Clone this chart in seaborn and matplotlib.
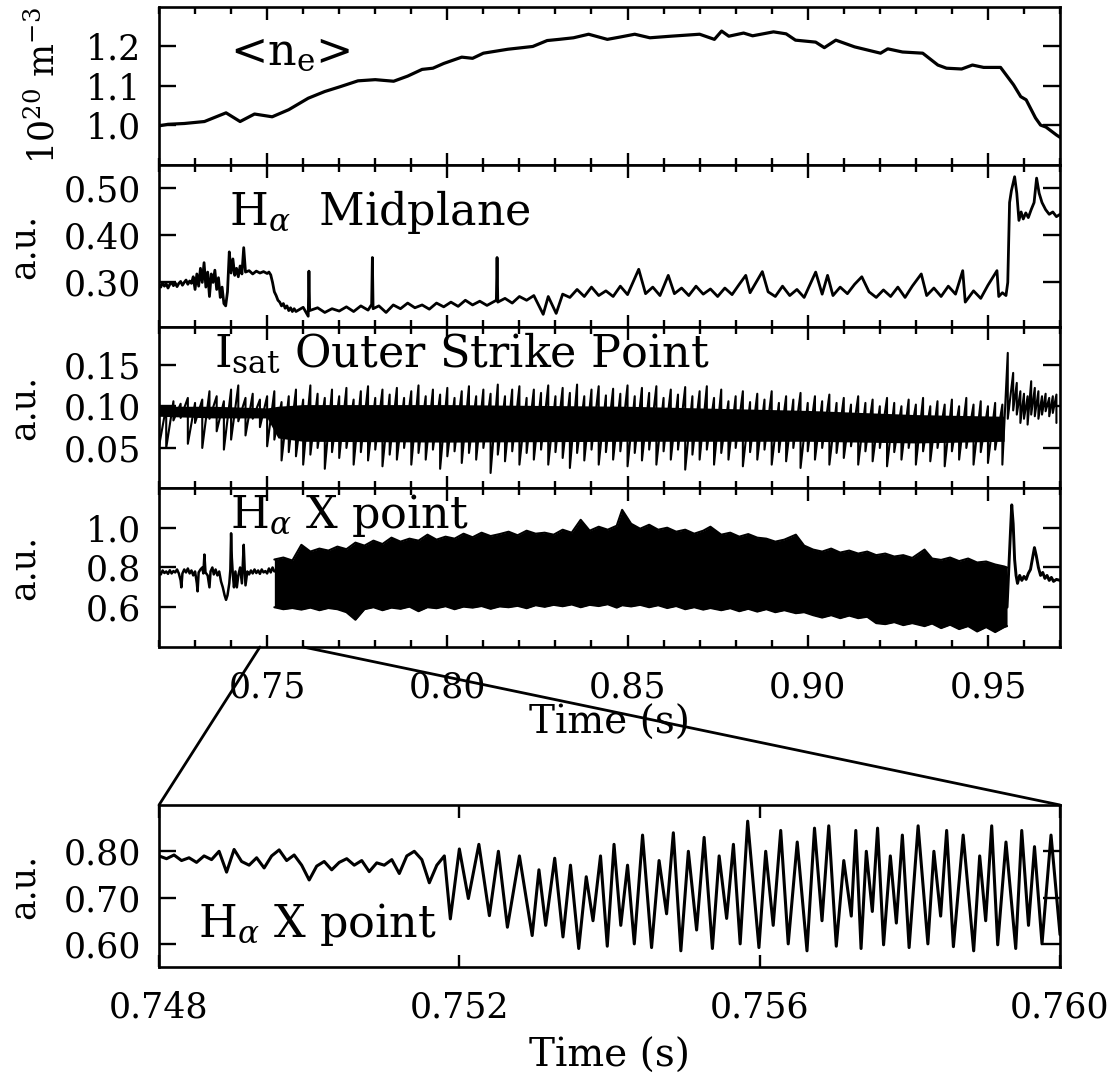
# library
import numpy as np
import seaborn as sns
import matplotlib.pyplot as plt
from matplotlib.patches import ConnectionPatch
from matplotlib.ticker import FixedLocator, MultipleLocator, FormatStrFormatter

# ---------------- data ----------------
# line averaged density <n_e> (time, 1e20 m^-3)
ne_pts = [(0.7200, 0.999), (0.7225, 1.003), (0.7270, 1.005), (0.7326, 1.010), (0.7386, 1.032),
          (0.7425, 1.010), (0.7465, 1.029), (0.7514, 1.022), (0.7560, 1.040), (0.7614, 1.069),
          (0.7660, 1.086), (0.7702, 1.098), (0.7752, 1.113), (0.7800, 1.116), (0.7851, 1.112),
          (0.7890, 1.125), (0.7930, 1.142), (0.7960, 1.145), (0.7990, 1.157), (0.8040, 1.173),
          (0.8070, 1.170), (0.8100, 1.183), (0.8168, 1.193), (0.8237, 1.200), (0.8277, 1.215),
          (0.8310, 1.218), (0.8350, 1.222), (0.8392, 1.231), (0.8444, 1.218), (0.8480, 1.224),
          (0.8520, 1.231), (0.8562, 1.222), (0.8620, 1.226), (0.8700, 1.231), (0.8741, 1.218),
          (0.8761, 1.239), (0.8781, 1.226), (0.8822, 1.234), (0.8847, 1.227), (0.8905, 1.237),
          (0.8940, 1.232), (0.8966, 1.216), (0.9022, 1.211), (0.9046, 1.197), (0.9078, 1.216),
          (0.9130, 1.199), (0.9202, 1.183), (0.9222, 1.194), (0.9263, 1.186), (0.9319, 1.183),
          (0.9361, 1.153), (0.9385, 1.145), (0.9427, 1.143), (0.9457, 1.153), (0.9488, 1.147),
          (0.9535, 1.147), (0.9571, 1.103), (0.9591, 1.073), (0.9606, 1.065), (0.9632, 1.019),
          (0.9646, 1.001), (0.9661, 0.996), (0.9690, 0.976), (0.9700, 0.970)]

# H-alpha midplane (time, a.u.)
mid_pts = [(0.7200, 0.295), (0.7205, 0.290), (0.7210, 0.300), (0.7215, 0.292), (0.7220, 0.297),
           (0.7225, 0.288), (0.7230, 0.296), (0.7235, 0.300), (0.7240, 0.293), (0.7245, 0.299),
           (0.7250, 0.291), (0.7255, 0.298), (0.7260, 0.302), (0.7265, 0.294), (0.7270, 0.300),
           (0.7275, 0.305), (0.7280, 0.296), (0.7285, 0.303), (0.7290, 0.298), (0.7295, 0.312),
           (0.7300, 0.285), (0.7305, 0.318), (0.7310, 0.292), (0.7315, 0.330), (0.7320, 0.300),
           (0.7325, 0.342), (0.7330, 0.290), (0.7335, 0.322), (0.7340, 0.270), (0.7345, 0.318),
           (0.7350, 0.300), (0.7355, 0.326), (0.7360, 0.285), (0.7365, 0.310), (0.7370, 0.268),
           (0.7375, 0.290), (0.7380, 0.255), (0.7385, 0.250), (0.7390, 0.280), (0.7395, 0.365),
           (0.7400, 0.320), (0.7405, 0.350), (0.7410, 0.315), (0.7415, 0.330), (0.7420, 0.312),
           (0.7425, 0.335), (0.7430, 0.318), (0.7435, 0.374), (0.7440, 0.322), (0.7450, 0.325),
           (0.7460, 0.318), (0.7470, 0.324), (0.7480, 0.320), (0.7490, 0.323), (0.7500, 0.319),
           (0.7505, 0.322), (0.7510, 0.316), (0.7515, 0.300), (0.7520, 0.280), (0.7525, 0.272),
           (0.7530, 0.262), (0.7535, 0.258), (0.7540, 0.250), (0.7545, 0.255), (0.7550, 0.245),
           (0.7555, 0.250), (0.7560, 0.240), (0.7565, 0.246), (0.7570, 0.238), (0.7575, 0.244),
           (0.7580, 0.238), (0.7600, 0.247), (0.7614, 0.228), (0.7616, 0.324), (0.7618, 0.240),
           (0.7640, 0.246), (0.7660, 0.236), (0.7680, 0.244), (0.7700, 0.239), (0.7720, 0.248),
           (0.7740, 0.238), (0.7760, 0.250), (0.7780, 0.241), (0.7790, 0.253), (0.7792, 0.353),
           (0.7794, 0.244), (0.7810, 0.250), (0.7830, 0.236), (0.7850, 0.252), (0.7870, 0.244),
           (0.7890, 0.256), (0.7910, 0.246), (0.7930, 0.252), (0.7950, 0.243), (0.7970, 0.256),
           (0.7990, 0.248), (0.8010, 0.258), (0.8030, 0.249), (0.8050, 0.262), (0.8070, 0.252),
           (0.8090, 0.260), (0.8110, 0.251), (0.8136, 0.262), (0.8138, 0.353), (0.8140, 0.258),
           (0.8160, 0.266), (0.8180, 0.256), (0.8200, 0.270), (0.8220, 0.262), (0.8240, 0.272),
           (0.8266, 0.232), (0.8280, 0.270), (0.8302, 0.234), (0.8320, 0.275), (0.8340, 0.268),
           (0.8360, 0.285), (0.8380, 0.270), (0.8400, 0.290), (0.8420, 0.272), (0.8440, 0.282),
           (0.8460, 0.270), (0.8480, 0.292), (0.8500, 0.274), (0.8531, 0.328), (0.8550, 0.276),
           (0.8570, 0.290), (0.8590, 0.272), (0.8613, 0.315), (0.8630, 0.276), (0.8650, 0.288),
           (0.8670, 0.272), (0.8690, 0.292), (0.8710, 0.275), (0.8730, 0.286), (0.8750, 0.270),
           (0.8770, 0.288), (0.8790, 0.274), (0.8810, 0.296), (0.8828, 0.315), (0.8840, 0.278),
           (0.8874, 0.323), (0.8890, 0.280), (0.8910, 0.270), (0.8930, 0.292), (0.8950, 0.272),
           (0.8970, 0.285), (0.8990, 0.268), (0.9022, 0.322), (0.9040, 0.275), (0.9055, 0.315),
           (0.9070, 0.272), (0.9090, 0.290), (0.9110, 0.276), (0.9130, 0.296), (0.9150, 0.312),
           (0.9170, 0.280), (0.9190, 0.268), (0.9210, 0.284), (0.9230, 0.270), (0.9250, 0.290),
           (0.9270, 0.268), (0.9290, 0.292), (0.9315, 0.318), (0.9330, 0.272), (0.9350, 0.288),
           (0.9370, 0.270), (0.9390, 0.292), (0.9410, 0.275), (0.9430, 0.325), (0.9437, 0.258),
           (0.9460, 0.282), (0.9480, 0.266), (0.9500, 0.294), (0.9525, 0.325), (0.9530, 0.270),
           (0.9540, 0.278), (0.9550, 0.272), (0.9555, 0.300), (0.9560, 0.470), (0.9565, 0.495),
           (0.9574, 0.525), (0.9580, 0.490), (0.9586, 0.432), (0.9592, 0.450), (0.9598, 0.435),
           (0.9605, 0.448), (0.9612, 0.438), (0.9620, 0.455), (0.9628, 0.470), (0.9635, 0.522),
           (0.9642, 0.490), (0.9650, 0.470), (0.9660, 0.455), (0.9670, 0.445), (0.9680, 0.450),
           (0.9690, 0.440), (0.9700, 0.445)]

# I_sat outer strike point: (time, upper excursion, lower excursion)
isat_rows = [(0.720, 0.104, 0.052), (0.722, 0.100, 0.050), (0.724, 0.106, 0.083), (0.726, 0.103, 0.086),
             (0.728, 0.110, 0.055), (0.730, 0.104, 0.080), (0.732, 0.108, 0.050), (0.734, 0.118, 0.085),
             (0.736, 0.112, 0.070), (0.738, 0.106, 0.048), (0.740, 0.120, 0.060), (0.742, 0.125, 0.082),
             (0.744, 0.110, 0.065), (0.746, 0.115, 0.085), (0.748, 0.108, 0.075), (0.750, 0.112, 0.052),
             (0.752, 0.118, 0.060), (0.754, 0.105, 0.035), (0.756, 0.112, 0.045), (0.758, 0.120, 0.040),
             (0.760, 0.108, 0.030), (0.762, 0.125, 0.042), (0.764, 0.115, 0.050), (0.766, 0.110, 0.025),
             (0.768, 0.120, 0.045), (0.770, 0.112, 0.038), (0.772, 0.122, 0.050), (0.774, 0.108, 0.030),
             (0.776, 0.118, 0.045), (0.778, 0.124, 0.035), (0.780, 0.110, 0.048), (0.782, 0.120, 0.028),
             (0.784, 0.114, 0.042), (0.786, 0.122, 0.036), (0.788, 0.110, 0.050), (0.790, 0.118, 0.030),
             (0.792, 0.125, 0.044), (0.794, 0.112, 0.036), (0.796, 0.120, 0.048), (0.798, 0.114, 0.025),
             (0.800, 0.122, 0.040), (0.802, 0.110, 0.046), (0.804, 0.118, 0.032), (0.806, 0.124, 0.044),
             (0.808, 0.112, 0.036), (0.810, 0.120, 0.050), (0.812, 0.115, 0.020), (0.814, 0.126, 0.042),
             (0.816, 0.112, 0.034), (0.818, 0.120, 0.046), (0.820, 0.124, 0.030), (0.822, 0.110, 0.044),
             (0.824, 0.120, 0.036), (0.826, 0.116, 0.048), (0.828, 0.125, 0.030), (0.830, 0.112, 0.045),
             (0.832, 0.122, 0.038), (0.834, 0.116, 0.026), (0.836, 0.126, 0.044), (0.838, 0.112, 0.035),
             (0.840, 0.120, 0.048), (0.842, 0.124, 0.030), (0.844, 0.113, 0.045), (0.846, 0.121, 0.036),
             (0.848, 0.115, 0.046), (0.850, 0.125, 0.028), (0.852, 0.112, 0.044), (0.854, 0.122, 0.035),
             (0.856, 0.116, 0.048), (0.858, 0.124, 0.030), (0.860, 0.110, 0.046), (0.862, 0.120, 0.036),
             (0.864, 0.114, 0.048), (0.866, 0.123, 0.024), (0.868, 0.112, 0.042), (0.870, 0.118, 0.036),
             (0.872, 0.124, 0.048), (0.874, 0.110, 0.030), (0.876, 0.120, 0.044), (0.878, 0.106, 0.036),
             (0.880, 0.112, 0.050), (0.882, 0.118, 0.028), (0.884, 0.105, 0.045), (0.886, 0.115, 0.036),
             (0.888, 0.108, 0.048), (0.890, 0.118, 0.030), (0.892, 0.104, 0.045), (0.894, 0.112, 0.034),
             (0.896, 0.108, 0.050), (0.898, 0.116, 0.026), (0.900, 0.104, 0.046), (0.902, 0.112, 0.036),
             (0.904, 0.106, 0.050), (0.906, 0.114, 0.030), (0.908, 0.104, 0.044), (0.910, 0.110, 0.038),
             (0.912, 0.102, 0.052), (0.914, 0.112, 0.030), (0.916, 0.104, 0.046), (0.918, 0.108, 0.034),
             (0.920, 0.100, 0.050), (0.922, 0.110, 0.028), (0.924, 0.104, 0.045), (0.926, 0.100, 0.036),
             (0.928, 0.108, 0.050), (0.930, 0.102, 0.030), (0.932, 0.110, 0.046), (0.934, 0.100, 0.034),
             (0.936, 0.106, 0.050), (0.938, 0.102, 0.028), (0.940, 0.108, 0.046), (0.942, 0.100, 0.036),
             (0.944, 0.110, 0.050), (0.946, 0.102, 0.030), (0.948, 0.106, 0.045), (0.950, 0.100, 0.032),
             (0.952, 0.104, 0.048), (0.954, 0.102, 0.030), (0.9555, 0.164, 0.085), (0.957, 0.140, 0.095),
             (0.958, 0.128, 0.090), (0.959, 0.118, 0.080), (0.960, 0.115, 0.085), (0.961, 0.112, 0.078),
             (0.962, 0.130, 0.090), (0.963, 0.122, 0.088), (0.964, 0.118, 0.085), (0.965, 0.112, 0.090),
             (0.966, 0.115, 0.094), (0.967, 0.110, 0.088), (0.968, 0.112, 0.092), (0.969, 0.114, 0.080)]
# dense core of the I_sat band
isat_core_t = [0.720, 0.735, 0.750, 0.753, 0.760, 0.800, 0.850, 0.900, 0.930, 0.9545]
isat_core_hi = [0.100, 0.100, 0.098, 0.100, 0.102, 0.102, 0.100, 0.095, 0.090, 0.088]
isat_core_lo = [0.088, 0.086, 0.086, 0.062, 0.058, 0.057, 0.058, 0.058, 0.056, 0.058]

# H-alpha X point, before the oscillating phase
xpt_pre = [(0.7200, 0.778), (0.7205, 0.765), (0.7210, 0.785), (0.7215, 0.772), (0.7220, 0.780),
           (0.7225, 0.768), (0.7230, 0.786), (0.7235, 0.770), (0.7240, 0.782), (0.7245, 0.775),
           (0.7250, 0.790), (0.7255, 0.770), (0.7260, 0.735), (0.7262, 0.700), (0.7265, 0.770),
           (0.7270, 0.790), (0.7275, 0.775), (0.7280, 0.795), (0.7285, 0.770), (0.7290, 0.785),
           (0.7295, 0.760), (0.7300, 0.780), (0.7305, 0.720), (0.7307, 0.680), (0.7310, 0.775),
           (0.7315, 0.790), (0.7320, 0.800), (0.7323, 0.770), (0.7326, 0.865), (0.7329, 0.775),
           (0.7335, 0.760), (0.7340, 0.700), (0.7343, 0.780), (0.7348, 0.800), (0.7352, 0.765),
           (0.7357, 0.790), (0.7362, 0.760), (0.7367, 0.780), (0.7372, 0.730), (0.7377, 0.700),
           (0.7382, 0.660), (0.7386, 0.637), (0.7390, 0.660), (0.7395, 0.720), (0.7398, 0.790),
           (0.7400, 0.972), (0.7402, 0.850), (0.7405, 0.760), (0.7408, 0.700), (0.7412, 0.780),
           (0.7416, 0.700), (0.7420, 0.760), (0.7425, 0.800), (0.7430, 0.720), (0.7435, 0.914),
           (0.7438, 0.780), (0.7440, 0.710), (0.7445, 0.780), (0.7450, 0.765), (0.7455, 0.785),
           (0.7460, 0.770), (0.7465, 0.790), (0.7470, 0.772), (0.7475, 0.785), (0.7480, 0.768),
           (0.7485, 0.790), (0.7490, 0.775), (0.7495, 0.782), (0.7500, 0.770), (0.7505, 0.795),
           (0.7510, 0.775), (0.7515, 0.800), (0.7520, 0.780)]
# oscillating phase: (time, upper envelope, lower envelope)
xpt_env = [(0.7520, 0.840, 0.600), (0.7545, 0.850, 0.590), (0.7570, 0.835, 0.596), (0.7595, 0.914, 0.588),
           (0.7620, 0.880, 0.598), (0.7645, 0.895, 0.585), (0.7670, 0.885, 0.596), (0.7695, 0.905, 0.590),
           (0.7720, 0.892, 0.575), (0.7745, 0.925, 0.537), (0.7770, 0.910, 0.590), (0.7795, 0.935, 0.600),
           (0.7820, 0.918, 0.585), (0.7845, 0.950, 0.598), (0.7870, 0.930, 0.592), (0.7895, 0.945, 0.603),
           (0.7920, 0.935, 0.580), (0.7945, 0.965, 0.600), (0.7970, 0.940, 0.595), (0.7995, 0.955, 0.605),
           (0.8020, 0.945, 0.590), (0.8045, 0.970, 0.603), (0.8070, 0.952, 0.598), (0.8095, 0.975, 0.606),
           (0.8120, 0.958, 0.592), (0.8145, 0.968, 0.604), (0.8170, 0.980, 0.600), (0.8195, 0.962, 0.607),
           (0.8220, 0.985, 0.595), (0.8245, 0.970, 0.610), (0.8270, 0.975, 0.602), (0.8295, 0.965, 0.612),
           (0.8320, 0.990, 0.605), (0.8345, 0.975, 0.614), (0.8370, 1.040, 0.600), (0.8395, 0.985, 0.612),
           (0.8420, 1.005, 0.606), (0.8445, 0.990, 0.615), (0.8470, 1.010, 0.598), (0.8485, 1.090, 0.610),
           (0.8510, 1.020, 0.604), (0.8535, 0.995, 0.612), (0.8560, 1.015, 0.600), (0.8585, 0.990, 0.610),
           (0.8610, 1.000, 0.596), (0.8635, 0.980, 0.606), (0.8660, 0.990, 0.590), (0.8685, 0.970, 0.600),
           (0.8710, 0.985, 0.588), (0.8730, 1.005, 0.596), (0.8760, 0.965, 0.585), (0.8785, 0.975, 0.595),
           (0.8810, 0.955, 0.580), (0.8835, 0.968, 0.592), (0.8860, 0.950, 0.578), (0.8885, 0.945, 0.590),
           (0.8910, 0.930, 0.575), (0.8935, 0.940, 0.585), (0.8967, 0.965, 0.570), (0.8990, 0.910, 0.575),
           (0.9015, 0.890, 0.560), (0.9040, 0.880, 0.548), (0.9065, 0.895, 0.560), (0.9090, 0.875, 0.545),
           (0.9115, 0.885, 0.558), (0.9140, 0.870, 0.545), (0.9165, 0.880, 0.552), (0.9190, 0.862, 0.520),
           (0.9215, 0.870, 0.515), (0.9240, 0.855, 0.525), (0.9265, 0.862, 0.510), (0.9290, 0.848, 0.520),
           (0.9324, 0.890, 0.505), (0.9345, 0.845, 0.518), (0.9370, 0.838, 0.495), (0.9395, 0.850, 0.512),
           (0.9420, 0.832, 0.490), (0.9445, 0.845, 0.505), (0.9470, 0.825, 0.478), (0.9495, 0.830, 0.500),
           (0.9520, 0.815, 0.475), (0.9545, 0.805, 0.500), (0.9553, 0.800, 0.505)]
# after the transition
xpt_post = [(0.9553, 0.600), (0.9558, 0.800), (0.9563, 1.000), (0.9566, 1.115), (0.9570, 1.020),
            (0.9574, 0.840), (0.9578, 0.760), (0.9582, 0.720), (0.9588, 0.760), (0.9594, 0.735),
            (0.9600, 0.755), (0.9606, 0.740), (0.9612, 0.770), (0.9618, 0.790), (0.9624, 0.850),
            (0.9629, 0.900), (0.9634, 0.860), (0.9640, 0.800), (0.9646, 0.760), (0.9652, 0.775),
            (0.9658, 0.745), (0.9664, 0.760), (0.9670, 0.735), (0.9676, 0.750), (0.9682, 0.730),
            (0.9690, 0.740), (0.9700, 0.735)]

# zoomed H-alpha X point, 0.748 - 0.760 s
zoom_pts = [(0.74800, 0.790), (0.74810, 0.784), (0.74820, 0.792), (0.74830, 0.780), (0.74840, 0.786),
            (0.74850, 0.776), (0.74860, 0.790), (0.74870, 0.782), (0.74880, 0.800), (0.74890, 0.755),
            (0.74900, 0.804), (0.74910, 0.778), (0.74920, 0.770), (0.74930, 0.786), (0.74940, 0.764),
            (0.74950, 0.790), (0.74960, 0.803), (0.74970, 0.780), (0.74980, 0.792), (0.74990, 0.770),
            (0.75000, 0.738), (0.75010, 0.768), (0.75020, 0.778), (0.75030, 0.760), (0.75040, 0.776),
            (0.75050, 0.784), (0.75060, 0.770), (0.75070, 0.780), (0.75080, 0.756), (0.75090, 0.775),
            (0.75100, 0.770), (0.75110, 0.782), (0.75120, 0.752), (0.75130, 0.790), (0.75140, 0.800),
            (0.75150, 0.782), (0.75160, 0.732), (0.75170, 0.770), (0.75180, 0.790),
            (0.75188, 0.654), (0.75200, 0.805), (0.75212, 0.698), (0.75226, 0.815), (0.75240, 0.661),
            (0.75252, 0.800), (0.75264, 0.636), (0.75280, 0.790), (0.75297, 0.618), (0.75306, 0.760),
            (0.75315, 0.640), (0.75327, 0.785), (0.75338, 0.615), (0.75348, 0.770), (0.75359, 0.590),
            (0.75369, 0.745), (0.75378, 0.650), (0.75388, 0.790), (0.75397, 0.595), (0.75406, 0.815),
            (0.75415, 0.640), (0.75424, 0.770), (0.75433, 0.600), (0.75444, 0.835), (0.75456, 0.592),
            (0.75466, 0.780), (0.75476, 0.665), (0.75485, 0.840), (0.75495, 0.585), (0.75505, 0.800),
            (0.75516, 0.630), (0.75526, 0.830), (0.75537, 0.590), (0.75546, 0.790), (0.75556, 0.655),
            (0.75565, 0.815), (0.75574, 0.600), (0.75584, 0.865), (0.75599, 0.592), (0.75608, 0.800),
            (0.75618, 0.640), (0.75628, 0.845), (0.75638, 0.600), (0.75650, 0.820), (0.75663, 0.585),
            (0.75673, 0.850), (0.75683, 0.650), (0.75692, 0.855), (0.75702, 0.595), (0.75712, 0.780),
            (0.75722, 0.660), (0.75728, 0.845), (0.75735, 0.590), (0.75742, 0.800), (0.75750, 0.670),
            (0.75757, 0.850), (0.75765, 0.598), (0.75774, 0.790), (0.75782, 0.645), (0.75790, 0.835),
            (0.75799, 0.592), (0.75811, 0.855), (0.75824, 0.600), (0.75832, 0.800), (0.75841, 0.660),
            (0.75849, 0.845), (0.75858, 0.594), (0.75871, 0.835), (0.75885, 0.585), (0.75893, 0.790),
            (0.75901, 0.650), (0.75909, 0.855), (0.75917, 0.598), (0.75928, 0.820), (0.75941, 0.590),
            (0.75949, 0.845), (0.75958, 0.640), (0.75966, 0.810), (0.75976, 0.600), (0.75988, 0.835),
            (0.76000, 0.620)]

# tick labels
main_xticks = [0.75, 0.80, 0.85, 0.90, 0.95]
zoom_xticks = [0.748, 0.752, 0.756, 0.760]
ne_yticks = [1.0, 1.1, 1.2]
mid_yticks = [0.30, 0.40, 0.50]
isat_yticks = [0.05, 0.10, 0.15]
xpt_yticks = [0.6, 0.8, 1.0]
zoom_yticks = [0.60, 0.70, 0.80]

# ---------------- style ----------------
sns.set_style("ticks")
plt.rcParams['font.family'] = ['DejaVu Serif']
plt.rcParams['mathtext.fontset'] = 'dejavuserif'
for key in ('text.color', 'axes.labelcolor', 'xtick.color', 'ytick.color', 'axes.edgecolor'):
    plt.rcParams[key] = 'black'

LW = 2.1
TICK_FS = 25
LABEL_FS = 32

fig = plt.figure(figsize=(11.19, 10.89), dpi=100)
left, width = 0.1421, 0.8052
ax1 = fig.add_axes([left, 0.8485, width, 0.1451])
ax2 = fig.add_axes([left, 0.6997, width, 0.1488])
ax3 = fig.add_axes([left, 0.5519, width, 0.1478])
ax4 = fig.add_axes([left, 0.4059, width, 0.1460])
axz = fig.add_axes([left, 0.1120, width, 0.1488])


def split(pts):
    a = np.array(pts)
    return [a[:, i] for i in range(a.shape[1])]


def line(ax, x, y, lw=LW):
    sns.lineplot(x=x, y=y, ax=ax, color='black', lw=lw, estimator=None, sort=False)


def style(ax, yticks, yfmt, ylim):
    ax.set_ylim(*ylim)
    ax.yaxis.set_major_locator(FixedLocator(yticks))
    ax.yaxis.set_major_formatter(FormatStrFormatter(yfmt))
    ax.tick_params(axis='both', which='both', direction='in', top=True, right=True,
                   width=1.7, colors='black')
    ax.tick_params(axis='y', which='major', length=12, labelsize=TICK_FS, pad=13)
    ax.tick_params(axis='x', which='major', length=9, labelsize=TICK_FS, pad=17)
    ax.tick_params(axis='x', which='minor', length=5)
    ax.set_xlabel('')
    ax.set_ylabel('a.u.', fontsize=TICK_FS)
    ax.yaxis.set_label_coords(-0.13, 0.5)
    for s in ax.spines.values():
        s.set_visible(True)
        s.set_linewidth(1.9)
        s.set_color('black')


# panel 1: density
t, v = split(ne_pts)
line(ax1, t, v, lw=2.3)
# panel 2: midplane H-alpha
t, v = split(mid_pts)
line(ax2, t, v, lw=2.0)
# panel 3: I_sat band
t, hi, lo = split(isat_rows)
ax3.fill_between(isat_core_t, isat_core_lo, isat_core_hi, color='black', lw=0)
line(ax3, np.repeat(t, 2), np.column_stack([hi, lo]).ravel(), lw=1.5)
# panel 4: X point H-alpha
t, v = split(xpt_pre)
line(ax4, t, v, lw=1.8)
t, hi, lo = split(xpt_env)
ax4.fill_between(t, lo, hi, color='black', lw=0)
line(ax4, t, hi, lw=1.5)
line(ax4, t, lo, lw=1.5)
t, v = split(xpt_post)
line(ax4, t, v)
# zoom panel
t, v = split(zoom_pts)
line(axz, t, v, lw=2.2)

style(ax1, ne_yticks, '%.1f', (0.9, 1.3))
style(ax2, mid_yticks, '%.2f', (0.205, 0.55))
style(ax3, isat_yticks, '%.2f', (0.002, 0.195))
style(ax4, xpt_yticks, '%.1f', (0.4, 1.2))
style(axz, zoom_yticks, '%.2f', (0.55, 0.90))

ax1.set_ylabel(r'10$^{20}$ m$^{-3}$', fontsize=TICK_FS)
ax1.yaxis.set_label_coords(-0.108, 0.5)

for ax in (ax1, ax2, ax3, ax4):
    ax.set_xlim(0.72, 0.97)
    ax.xaxis.set_major_locator(FixedLocator(main_xticks))
    ax.xaxis.set_minor_locator(MultipleLocator(0.01))
    ax.xaxis.set_major_formatter(FormatStrFormatter('%.2f'))
for ax in (ax1, ax2, ax3):
    ax.tick_params(axis='x', labelbottom=False)

ax4.set_xlabel('Time (s)', fontsize=28)
ax4.xaxis.set_label_coords(0.5, -0.365)

axz.set_xlim(0.748, 0.760)
axz.xaxis.set_major_locator(FixedLocator(zoom_xticks))
axz.xaxis.set_major_formatter(FormatStrFormatter('%.3f'))
axz.set_xlabel('Time (s)', fontsize=28)
axz.xaxis.set_label_coords(0.5, -0.438)

# panel titles
ax1.text(0.079, 0.633, r'<n$_\mathrm{e}$>', transform=ax1.transAxes, fontsize=LABEL_FS, va='baseline')
ax2.text(0.078, 0.63, r'H$_\alpha$  Midplane', transform=ax2.transAxes, fontsize=LABEL_FS, va='baseline')
ax3.text(0.061, 0.752, r'I$_\mathrm{sat}$ Outer Strike Point', transform=ax3.transAxes,
         fontsize=LABEL_FS, va='baseline')
ax4.text(0.079, 0.748, r'H$_\alpha$ X point', transform=ax4.transAxes, fontsize=LABEL_FS, va='baseline')
axz.text(0.0435, 0.185, r'H$_\alpha$ X point', transform=axz.transAxes, fontsize=LABEL_FS, va='baseline')

# zoom connector lines
for xa, xb in ((zoom_xticks[0], 0.0), (zoom_xticks[-1], 1.0)):
    con = ConnectionPatch(xyA=(xa, 0.4), coordsA=ax4.transData,
                          xyB=(xb, 1.0), coordsB=axz.transAxes,
                          color='black', lw=2.0)
    fig.add_artist(con)

fig.savefig('out.png', dpi=100)
